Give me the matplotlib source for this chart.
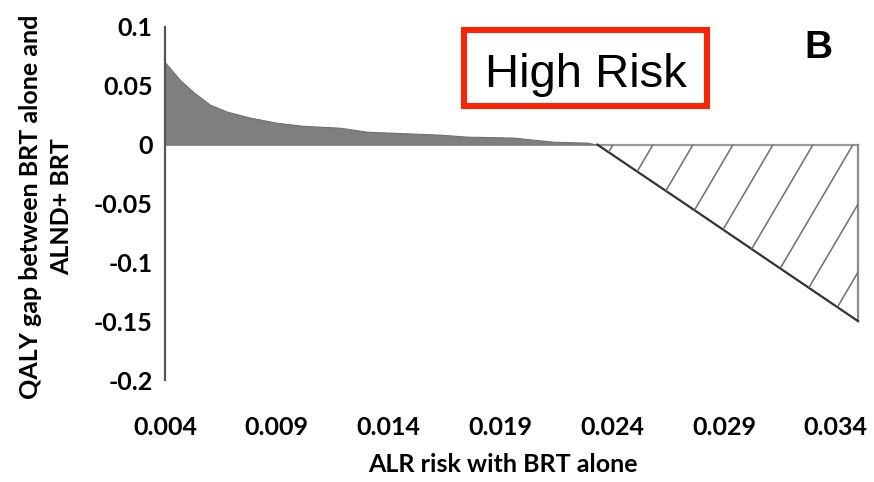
import numpy as np
import matplotlib.pyplot as plt
from matplotlib.patches import Polygon, Rectangle
from matplotlib.lines import Line2D
from matplotlib.transforms import IdentityTransform

# values
risk_pos = [0.0040, 0.00467, 0.00525, 0.00601, 0.00678, 0.00780, 0.00901, 0.01018,
            0.01183, 0.01304, 0.01631, 0.01752, 0.01958, 0.02137, 0.02289, 0.02334]
gap_pos = [0.0700, 0.0550, 0.0450, 0.0340, 0.0280, 0.0230, 0.0186, 0.0160,
           0.0144, 0.0110, 0.0085, 0.0068, 0.0060, 0.0025, 0.0017, 0.0]

risk_neg = [0.02334, 0.02763, 0.0310, 0.0350]
gap_neg = [0.0, -0.055, -0.0985, -0.150]

xticks = [0.004, 0.009, 0.014, 0.019, 0.024, 0.029, 0.034]
xtick_labels = ["0.004", "0.009", "0.014", "0.019", "0.024", "0.029", "0.034"]
yticks = [0.1, 0.05, 0, -0.05, -0.1, -0.15, -0.2]
ytick_labels = ["0.1", "0.05", "0", "-0.05", "-0.1", "-0.15", "-0.2"]

W, H = 874, 482
fig = plt.figure(figsize=(W / 100, H / 100), dpi=100)
ax = fig.add_axes([165 / W, 1 - 380 / H, (863 - 165) / W, (380 - 27) / H])
ax.set_xlim(0.004, 0.03522)
ax.set_ylim(-0.2, 0.1)

# positive area
ax.fill_between(risk_pos, gap_pos, 0, facecolor="#7f7f7f", edgecolor="#707070", lw=0.8)

# negative triangle, outlined
tri = Polygon(list(zip(risk_neg, gap_neg)) + [(risk_neg[-1], 0)], closed=True,
              facecolor="none", edgecolor="none")
ax.add_patch(tri)
ax.plot([risk_neg[0], risk_neg[-1]], [0, 0], color="#9a9a9a", lw=1.6)
ax.plot([risk_neg[-1], risk_neg[-1]], [0, gap_neg[-1]], color="#8c8c8c", lw=1.6)
ax.plot(risk_neg, gap_neg, color="#333333", lw=1.6)

# sparse hatching inside the triangle (display pixel space)
x0_px, y0_px = ax.transData.transform((0.004, 0.0))
slope = 1.7
for k in range(-2, 12):
    xt = 653 + 40 * k
    xs = [xt, xt - 300]
    ys = [y0_px, y0_px - 300 * slope]
    ln = Line2D(xs, ys, transform=IdentityTransform(), color="#6e6e6e", lw=1.1)
    ln.set_clip_path(tri)
    fig.add_artist(ln)

ax.set_xticks(xticks)
ax.set_xticklabels(xtick_labels)
ax.set_yticks(yticks)
ax.set_yticklabels(ytick_labels)
tick_font = dict(family="Lato", weight="bold", size=18)
for lab in ax.get_xticklabels() + ax.get_yticklabels():
    lab.set_fontfamily("Lato")
    lab.set_fontweight("bold")
    lab.set_fontsize(18)
ax.tick_params(axis="both", length=0)
ax.tick_params(axis="y", pad=9)
ax.tick_params(axis="x", pad=26)

for s in ["top", "right", "bottom"]:
    ax.spines[s].set_visible(False)
ax.spines["left"].set_color("#555555")
ax.spines["left"].set_linewidth(1.6)
ax.patch.set_visible(False)

fig.text(503 / W, 1 - 465 / H, "ALR risk with BRT alone", ha="center", va="center",
         **tick_font)
fig.text(46 / W, 1 - 207 / H, "QALY gap between BRT alone and\nALND+ BRT", ha="center",
         va="center", rotation=90, linespacing=1.45, **tick_font)

# red label box
fig.add_artist(Rectangle((464 / W, 1 - 106 / H), 243 / W, 76 / H, transform=fig.transFigure,
                         facecolor="white", edgecolor="#ff2200", lw=4.3))
fig.text(586 / W, 1 - 87 / H, "High Risk", ha="center", va="baseline",
         family="Liberation Sans", size=34)
fig.text(818 / W, 1 - 58 / H, "B", ha="center", va="baseline",
         family="Liberation Sans", weight="bold", size=28)

fig.savefig("out.png", dpi=100)
